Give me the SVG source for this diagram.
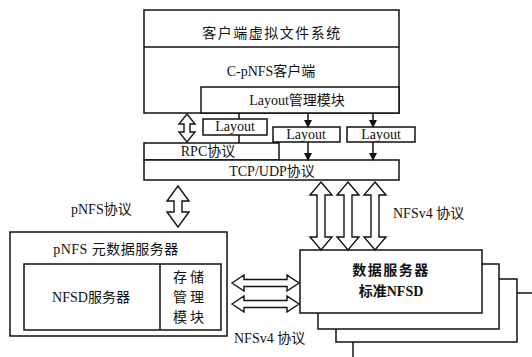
<svg xmlns="http://www.w3.org/2000/svg" width="532" height="357" viewBox="0 0 532 357">
<defs>
<style>
.b{fill:#fff;stroke:#111;stroke-width:1.5}
.ln{stroke:#111;stroke-width:1.5;fill:none}
.ha{fill:#fff;stroke:#111;stroke-width:1.4;stroke-linejoin:miter}
text{font-family:"Liberation Serif","Noto Sans CJK SC",serif;font-size:14px;fill:#111;text-anchor:middle}
.l{text-anchor:start}
.bd{font-weight:bold}
</style>
<marker id="ah" markerWidth="8" markerHeight="8" refX="7" refY="4" orient="auto" markerUnits="userSpaceOnUse">
<path d="M0,0 L8,4 L0,8 Z" fill="#111"/>
</marker>
</defs>
<rect width="532" height="357" fill="#fff"/>

<g id="client">
<rect class="b" x="144" y="10" width="255" height="103"/>
<line class="ln" x1="144" y1="47" x2="399" y2="47"/>
<text x="272" y="38" letter-spacing="1.5">客户端虚拟文件系统</text>
<text x="271" y="76">C-pNFS客户端</text>
</g>
<g id="layout-mgr">
<rect class="b" x="201" y="87" width="198" height="26"/>
<text x="297" y="105">Layout管理模块</text>
</g>
<g id="layout1">
<rect class="b" x="203" y="119" width="64" height="16"/>
<text x="235" y="131">Layout</text>
</g>
<g id="layout2">
<rect class="b" x="273" y="127" width="67" height="15"/>
<text x="306" y="139">Layout</text>
</g>
<g id="layout3">
<rect class="b" x="347" y="127" width="68" height="15"/>
<text x="381" y="139">Layout</text>
</g>
<g id="rpc">
<rect class="b" x="144" y="143" width="135" height="17"/>
<text x="208" y="156">RPC协议</text>
</g>
<g id="tcp">
<rect class="b" x="144" y="160" width="255" height="20"/>
<text x="272" y="176">TCP/UDP协议</text>
</g>

<g id="meta">
<rect class="b" x="10" y="232" width="217" height="104"/>
<text x="116" y="254" letter-spacing="0.5">pNFS 元数据服务器</text>
<rect class="b" x="24" y="264" width="197" height="66"/>
<line class="ln" x1="160" y1="264" x2="160" y2="330"/>
<text x="91" y="302">NFSD服务器</text>
</g>
<g id="storage">
<text x="190" y="282" letter-spacing="3">存储</text>
<text x="190" y="302" letter-spacing="3">管理</text>
<text x="190" y="322" letter-spacing="3">模块</text>
</g>

<g id="ds4"><rect class="b" x="353" y="293" width="200" height="80"/></g>
<g id="ds3"><rect class="b" x="336" y="279" width="181" height="63"/></g>
<g id="ds2"><rect class="b" x="318" y="264" width="181" height="65"/></g>
<g id="ds1">
<rect class="b" x="300" y="250" width="182" height="63"/>
<text class="bd" x="391" y="275" letter-spacing="1.5">数据服务器</text>
<text class="bd" x="391" y="296">标准NFSD</text>
</g>

<g id="connectors">
<line class="ln" x1="239" y1="113" x2="239" y2="119"/>
<line class="ln" x1="239" y1="135" x2="239" y2="143"/>
<line class="ln" x1="308" y1="113" x2="308" y2="127" marker-end="url(#ah)"/>
<line class="ln" x1="373" y1="113" x2="373" y2="127" marker-end="url(#ah)"/>
<line class="ln" x1="308" y1="142" x2="308" y2="160" marker-end="url(#ah)"/>
<line class="ln" x1="373" y1="142" x2="373" y2="160" marker-end="url(#ah)"/>
<polygon class="ha" points="187,114 195,124 190,124 190,132 195,132 187,142 179,132 184,132 184,124 179,124"/>
<polygon class="ha" points="178,186 189,201 182,201 182,212 189,212 178,227 167,212 174,212 174,201 167,201"/>
<polygon class="ha" points="321,182 332,195 325,195 325,237 332,237 321,250 310,237 317,237 317,195 310,195"/>
<polygon class="ha" points="348,182 359,195 352,195 352,237 359,237 348,250 337,237 344,237 344,195 337,195"/>
<polygon class="ha" points="375,182 386,195 379,195 379,237 386,237 375,250 364,237 371,237 371,195 364,195"/>
<polygon class="ha" points="232,283 244,275 244,279.5 287,279.5 287,275 299,283 287,291 287,286.5 244,286.5 244,291"/>
<polygon class="ha" points="232,304 244,296 244,300.5 287,300.5 287,296 299,304 287,312 287,307.5 244,307.5 244,312"/>
</g>

<text class="l" x="71" y="214">pNFS协议</text>
<text class="l" x="393" y="218">NFSv4 协议</text>
<text class="l" x="234" y="343">NFSv4 协议</text>
</svg>
